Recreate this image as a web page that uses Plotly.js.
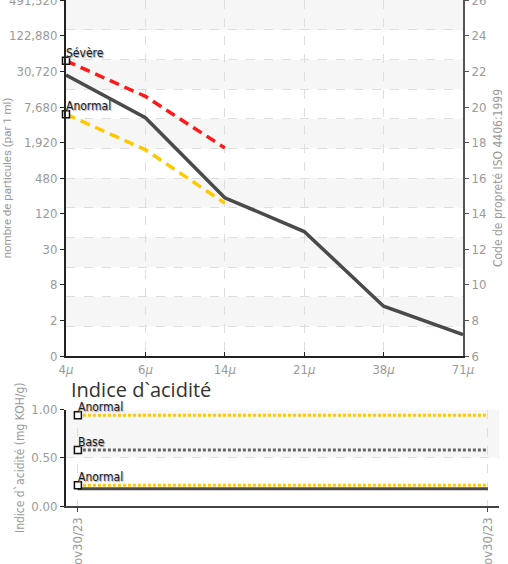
<!DOCTYPE html>
<html>
<head>
<meta charset="utf-8">
<script src="https://cdn.plot.ly/plotly-3.0.1.min.js"></script>
<style>html,body{margin:0;padding:0;background:#fff;}#chart{width:508px;height:564px;}</style>
</head>
<body>
<div id="chart"></div>
<script>
// ---- Particle count chart (ISO 4406 code units) ----
var sizeLabels = ['4<i>μ</i>', '6<i>μ</i>', '14<i>μ</i>', '21<i>μ</i>', '38<i>μ</i>', '71<i>μ</i>'];
var sampleCodes = [21.8, 19.4, 14.9, 13.0, 8.8, 7.2];
var severeCodes = [22.6, 20.6, 17.7];
var abnormalCodes = [19.6, 17.6, 14.6];
var isoCodeTicks = [6, 8, 10, 12, 14, 16, 18, 20, 22, 24, 26];
var countTickText = ['0', '2', '8', '30', '120', '480', '1,920', '7,680', '30,720', '122,880', '491,520'];
var severeLabel = 'Sévère';
var abnormalLabel = 'Anormal';

// ---- Acid number chart ----
var dateLabels = ['Nov30/23', 'Nov30/23'];
var acidSample = [0.18, 0.18];
var acidAbnormalHigh = [0.94, 0.94];
var acidBase = [0.58, 0.58];
var acidAbnormalLow = [0.215, 0.215];
var acidTicks = [0, 0.5, 1.0];
var baseLabel = 'Base';

var condensed = 'DejaVu Sans Condensed, Roboto Condensed, Liberation Sans Narrow, Roboto, sans-serif';
var tickFont = {family: condensed, size: 13, color: '#9a9a9a'};
var labelFont = {family: condensed, size: 12, color: '#1a1a1a', shadow: '1px 1px 1px #999'};
var axisTitleFont = {family: condensed, size: 12, color: '#9a9a9a'};

var xIdx = sizeLabels.map(function (_, i) { return i; });
var dIdx = dateLabels.map(function (_, i) { return i; });

function firstPointMarker(xs, ys, xa, ya) {
  return {
    x: [xs[0]], y: [ys[0]], xaxis: xa, yaxis: ya, type: 'scatter', mode: 'markers', cliponaxis: false,
    marker: {symbol: 'square', size: 7, color: '#fff', line: {color: '#111', width: 1.5}},
    hoverinfo: 'skip', showlegend: false
  };
}
function firstPointLabel(xs, ys, label, xa, ya) {
  return {x: xs[0], y: ys[0], xref: xa, yref: ya, text: label, showarrow: false,
    xanchor: 'left', yanchor: 'bottom', xshift: -1, yshift: 0, borderpad: 0, font: labelFont};
}

var traces = [
  {x: xIdx, y: sampleCodes, type: 'scatter', mode: 'lines', xaxis: 'x', yaxis: 'y',
   line: {color: '#4a4a4a', width: 3.5}, showlegend: false},
  {x: xIdx.slice(0, severeCodes.length), y: severeCodes, type: 'scatter', mode: 'lines', xaxis: 'x', yaxis: 'y',
   line: {color: '#ff1a1a', width: 3.5, dash: '10px,6px'}, showlegend: false},
  {x: xIdx.slice(0, abnormalCodes.length), y: abnormalCodes, type: 'scatter', mode: 'lines', xaxis: 'x', yaxis: 'y',
   line: {color: '#ffc800', width: 3.5, dash: '10px,6px'}, showlegend: false},
  firstPointMarker(xIdx, severeCodes, 'x', 'y'),
  firstPointMarker(xIdx, abnormalCodes, 'x', 'y'),
  {x: xIdx, y: sampleCodes, xaxis: 'x', yaxis: 'y4', type: 'scatter', mode: 'none', hoverinfo: 'skip', showlegend: false},
  {x: xIdx, y: sampleCodes, type: 'scatter', mode: 'lines', xaxis: 'x', yaxis: 'y2',
   line: {color: 'rgba(0,0,0,0)'}, hoverinfo: 'skip', showlegend: false},

  {x: dIdx, y: acidSample, type: 'scatter', mode: 'lines', xaxis: 'x2', yaxis: 'y3',
   line: {color: '#4a4a4a', width: 3}, showlegend: false},
  {x: dIdx, y: acidAbnormalHigh, type: 'scatter', mode: 'lines', xaxis: 'x2', yaxis: 'y3',
   line: {color: '#ffc800', width: 3, dash: '3px,2px'}, showlegend: false},
  {x: dIdx, y: acidBase, type: 'scatter', mode: 'lines', xaxis: 'x2', yaxis: 'y3',
   line: {color: '#666', width: 3, dash: '3px,2px'}, showlegend: false},
  {x: dIdx, y: acidAbnormalLow, type: 'scatter', mode: 'lines', xaxis: 'x2', yaxis: 'y3',
   line: {color: '#ffc800', width: 3, dash: '3px,2px'}, showlegend: false},
  firstPointMarker(dIdx, acidAbnormalHigh, 'x2', 'y3'),
  firstPointMarker(dIdx, acidBase, 'x2', 'y3'),
  firstPointMarker(dIdx, acidAbnormalLow, 'x2', 'y3')
];

var annotations = [
  firstPointLabel(xIdx, severeCodes, severeLabel, 'x', 'y'),
  firstPointLabel(xIdx, abnormalCodes, abnormalLabel, 'x', 'y'),
  firstPointLabel(dIdx, acidAbnormalHigh, abnormalLabel, 'x2', 'y3'),
  firstPointLabel(dIdx, acidBase, baseLabel, 'x2', 'y3'),
  firstPointLabel(dIdx, acidAbnormalLow, abnormalLabel, 'x2', 'y3')
];

// alternating background bands (12 divisions of the code range)
var shapes = [];
var yMin = isoCodeTicks[0], yMax = isoCodeTicks[isoCodeTicks.length - 1];
var nBands = 12, step = (yMax - yMin) / nBands;
for (var b = 0; b < nBands; b++) {
  if (b % 2 === 1) {
    shapes.push({type: 'rect', xref: 'x domain', yref: 'y', x0: 0, x1: 1, y0: yMin + b * step, y1: yMin + (b + 1) * step,
      fillcolor: '#f6f6f6', line: {width: 0}, layer: 'below'});
  }
}
shapes.push({type: 'rect', xref: 'x2 domain', yref: 'y3', x0: 0, x1: 1, y0: acidTicks[1], y1: acidTicks[2],
  fillcolor: '#f6f6f6', line: {width: 0}, layer: 'below'});

var W = 508, H = 564, mL = 66, mR = 9, mT = 0, mB = 58;
var pw = W - mL - mR, ph = H - mT - mB;
var yTop = yMax + 0.02;

var layout = {
  width: W, height: H,
  margin: {l: mL, r: mR, t: mT, b: mB, pad: 0},
  paper_bgcolor: '#fff', plot_bgcolor: 'rgba(0,0,0,0)',
  showlegend: false,
  title: {text: 'Indice d`acidité', font: {family: 'Open Sans', size: 20, color: '#333'},
    xref: 'container', yref: 'container', x: 71 / W, xanchor: 'left', y: 1 - 389.5 / H, yanchor: 'middle'},
  xaxis: {domain: [0, (463 - mL) / pw], range: [0, xIdx.length - 1], tickvals: xIdx, ticktext: sizeLabels,
    tickfont: tickFont, showline: true, linecolor: '#222', linewidth: 2, ticks: 'inside', ticklen: 4, tickcolor: '#222',
    showgrid: true, gridcolor: '#dedede', griddash: 'dash', zeroline: false, anchor: 'y'},
  yaxis: {domain: [1 - 356 / ph, 1], range: [yMin, yTop], tickvals: isoCodeTicks, ticktext: countTickText,
    tickfont: tickFont, showline: true, linecolor: '#222', linewidth: 2, ticks: 'outside', ticklen: 4, tickcolor: '#222',
    ticklabeloverflow: 'allow', showgrid: false, zeroline: false, anchor: 'x',
    title: {text: 'nombre de particules (par 1 ml)', font: {family: 'Roboto', size: 11.5, color: '#9a9a9a'}, standoff: 4}},
  yaxis2: {overlaying: 'y', side: 'right', anchor: 'x', range: [yMin, yTop], tickvals: isoCodeTicks,
    tickfont: tickFont, showline: true, linecolor: '#555', linewidth: 2, ticks: 'outside', ticklen: 4, tickcolor: '#555',
    ticklabeloverflow: 'allow', showgrid: false, zeroline: false,
    title: {text: 'Code de propreté ISO 4406:1999', font: axisTitleFont, standoff: 8}},
  yaxis4: {overlaying: 'y', anchor: 'x', range: [yMin, yTop], tick0: yMin, dtick: step, showticklabels: false,
    ticks: '', showline: false, showgrid: true, gridcolor: '#dedede', griddash: 'dash', zeroline: false},
  xaxis2: {domain: [0, 1], anchor: 'y3', range: [-0.029, 1.027], tickvals: dIdx, ticktext: dateLabels, tickangle: -90,
    tickfont: tickFont, showline: true, linecolor: '#444', linewidth: 2, ticks: 'outside', ticklen: 4, tickcolor: '#444',
    showgrid: true, gridcolor: '#dedede', griddash: 'dash', zeroline: false},
  yaxis3: {domain: [0, (506.5 - 410) / ph], anchor: 'x2', range: [0, 1], tickvals: acidTicks, tickformat: '.2f',
    tickfont: tickFont, showline: true, linecolor: '#222', linewidth: 2, ticks: 'outside', ticklen: 4, tickcolor: '#222',
    showgrid: true, gridcolor: '#dedede', griddash: 'dash', zeroline: false,
    title: {text: 'Indice d`acidité (mg KOH/g)', font: axisTitleFont, standoff: 4}},
  shapes: shapes,
  annotations: annotations
};

Plotly.newPlot('chart', traces, layout, {displayModeBar: false, staticPlot: true});
</script>
</body>
</html>
